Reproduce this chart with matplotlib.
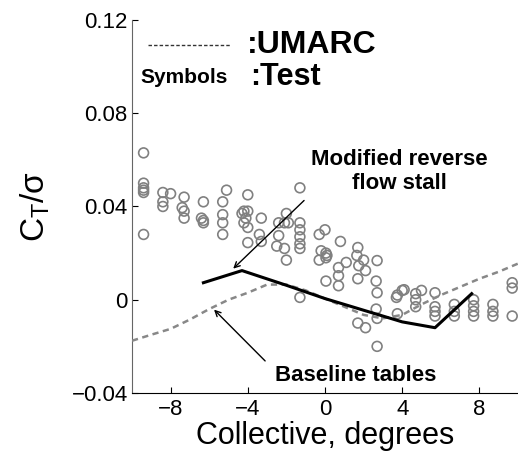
import numpy as np
import matplotlib
matplotlib.use("Agg")
import matplotlib.pyplot as plt

# test data (symbols)
test_coll = [-9.4, -9.4, -9.4, -9.4, -9.4, -9.4,
             -8.4, -8.0, -8.4, -8.4,
             -7.3, -7.4, -7.3, -7.3,
             -6.3, -6.4, -6.3, -6.3,
             -5.3, -5.3, -5.3, -5.3, -5.1,
             -4.0, -4.3, -4.2, -4.0, -4.2, -4.0, -4.1, -4.0,
             -3.3, -3.4, -3.3,
             -2.0, -2.4, -2.1, -1.9, -2.4, -2.1, -2.0, -2.5,
             -1.3, -1.3, -1.3, -1.3, -1.3, -1.3, -1.3,
             -0.3, -0.2, -0.3, 0.0, 0.05, 0.05, 0.1, 0.05,
             0.8, 1.1, 0.7, 0.7, 0.7,
             1.7, 1.65, 2.0, 1.75, 2.1, 1.7, 1.7, 2.1,
             2.7, 2.65, 2.7, 2.65, 2.7, 2.7,
             3.7, 3.75, 4.0, 4.1, 3.75,
             4.7, 4.7, 4.7, 5.0,
             5.7, 5.7, 5.7, 5.7,
             6.7, 6.7, 6.7,
             7.7, 7.7, 7.7, 7.7,
             8.7, 8.7, 8.7,
             9.7, 9.7, 9.7]
test_ct = [0.063, 0.050, 0.048, 0.047, 0.046, 0.028,
           0.046, 0.0455, 0.042, 0.040,
           0.044, 0.0395, 0.038, 0.035,
           0.042, 0.035, 0.034, 0.033,
           0.042, 0.0365, 0.033, 0.028, 0.047,
           0.045, 0.037, 0.038, 0.038, 0.033, 0.031, 0.035, 0.0245,
           0.035, 0.028, 0.025,
           0.037, 0.033, 0.033, 0.033, 0.0275, 0.022, 0.017, 0.023,
           0.048, 0.033, 0.030, 0.027, 0.024, 0.022, 0.001,
           0.028, 0.021, 0.017, 0.030, 0.020, 0.018, 0.019, 0.008,
           0.025, 0.016, 0.0138, 0.0103, 0.006,
           0.0224, 0.019, 0.017, 0.0146, 0.0125, 0.009, -0.010, -0.012,
           0.0168, 0.008, 0.003, -0.004, -0.008, -0.020,
           0.001, 0.002, 0.004, 0.0043, -0.006,
           0.0026, 0.0, -0.003, 0.004,
           0.003, -0.003, -0.005, -0.007,
           -0.002, -0.005, -0.007,
           0.0, -0.0026, -0.005, -0.007,
           -0.002, -0.005, -0.007,
           0.0073, 0.005, -0.007]

# UMARC baseline tables
umarc_coll = [-10, -9, -8, -7, -6, -5, -4, -3, -2, -1, 0, 1, 2, 3, 4, 5, 6, 7, 8, 9, 10]
umarc_ct = [-0.0176, -0.015, -0.0125, -0.0085, -0.004, 0.0, 0.003, 0.0065, 0.0065, 0.004,
            0.0005, -0.003, -0.0065, -0.008, -0.0065, -0.002, 0.002, 0.0055, 0.009, 0.012, 0.0155]

# UMARC modified reverse flow stall
mod_coll = [-6.3, -4.3, -2, 0, 2, 4, 5.7, 7.6]
mod_ct = [0.0073, 0.0125, 0.0062, 0.0005, -0.0045, -0.0095, -0.0120, 0.0026]

plt.rcParams.update({
    "font.family": ["Liberation Sans", "DejaVu Sans"],
    "mathtext.fontset": "custom",
    "mathtext.rm": "Liberation Sans",
    "mathtext.it": "Liberation Sans:italic",
})

fig = plt.figure(figsize=(5.18, 4.55), dpi=100)
ax = fig.add_axes([0.2548, 0.1363, 0.7452, 0.8198])

ax.scatter(test_coll, test_ct, s=50, facecolors="none", edgecolors="#808080",
           linewidths=1.2, zorder=2)
ax.plot(umarc_coll, umarc_ct, color="#888888", linestyle=(0, (2.5, 1.8)),
        linewidth=1.8, zorder=3)
ax.plot(mod_coll, mod_ct, color="black", linewidth=2.2, zorder=4)

ax.set_xlim(-10, 10)
ax.set_ylim(-0.04, 0.12)
ax.set_xticks([-8, -4, 0, 4, 8])
ax.set_xticklabels(["\u22128", "\u22124", "0", "4", "8"])
ax.set_yticks([-0.04, 0, 0.04, 0.08, 0.12])
ax.set_yticklabels(["\u22120.04", "0", "0.04", "0.08", "0.12"])
ax.tick_params(direction="in", length=4, labelsize=16, width=0.8)
ax.tick_params(axis="x", pad=4)
ax.tick_params(axis="y", pad=3)

for s in ["top", "right"]:
    ax.spines[s].set_visible(False)
ax.spines["left"].set_color("#666666")

ax.set_xlabel("Collective, degrees", fontsize=22, labelpad=1)
ax.set_ylabel("C$_\\mathrm{T}$/\u03c3", fontsize=24, labelpad=14)

# legend-like annotations
ax.plot([0.041, 0.253], [0.933, 0.933], transform=ax.transAxes, color="#333333",
        linestyle=(0, (2.5, 1.5)), linewidth=1.0)
ax.text(0.298, 0.9115, ":UMARC", transform=ax.transAxes, fontsize=23,
        fontweight="bold", va="baseline", ha="left")
ax.text(0.021, 0.831, "Symbols", transform=ax.transAxes, fontsize=15,
        fontweight="bold", va="baseline", ha="left")
ax.text(0.305, 0.826, ":Test", transform=ax.transAxes, fontsize=22,
        fontweight="bold", va="baseline", ha="left")

ax.text(0.693, 0.594, "Modified reverse\nflow stall", transform=ax.transAxes,
        fontsize=16, fontweight="bold", ha="center", va="center", linespacing=1.15)
ax.text(0.579, 0.048, "Baseline tables", transform=ax.transAxes,
        fontsize=16, fontweight="bold", ha="center", va="center")

ax.annotate("", xy=(-4.86, 0.0125), xytext=(-0.98, 0.0434),
            arrowprops=dict(arrowstyle="->", color="black", lw=1.0))
ax.annotate("", xy=(-5.85, -0.0034), xytext=(-3.0, -0.0271),
            arrowprops=dict(arrowstyle="->", color="black", lw=1.0))

fig.savefig("out.png", dpi=100)
